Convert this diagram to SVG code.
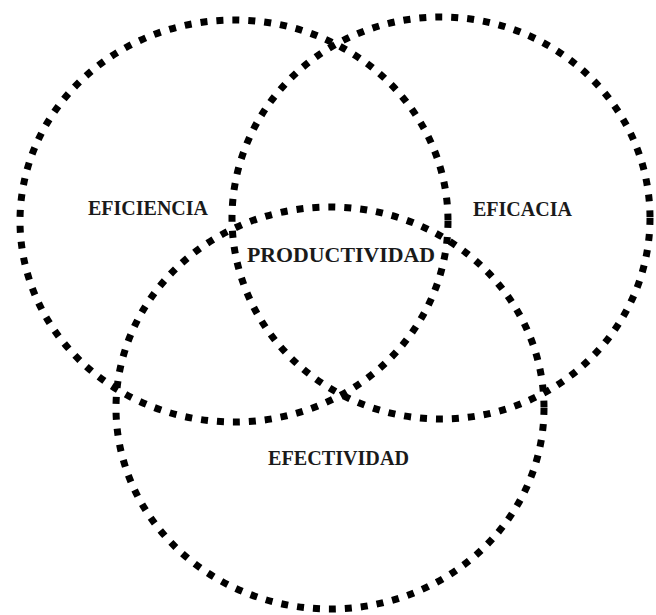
<svg xmlns="http://www.w3.org/2000/svg" width="656" height="615" viewBox="0 0 656 615">
  <style>
    .ring { fill: none; stroke: #000; stroke-width: 7; stroke-dasharray: 7 9; }
    .lbl { font-family: "Liberation Serif", "Times New Roman", serif; font-weight: bold; font-size: 20px; fill: #1a1a1a; }
  </style>
  <rect width="656" height="615" fill="#fff"/>
  <g id="eficiencia">
    <ellipse class="ring" cx="234" cy="221" rx="214" ry="201"/>
    <text class="lbl" x="88" y="215" textLength="120" lengthAdjust="spacingAndGlyphs">EFICIENCIA</text>
  </g>
  <g id="eficacia">
    <ellipse class="ring" cx="441" cy="218" rx="209" ry="201"/>
    <text class="lbl" x="473" y="216" textLength="99" lengthAdjust="spacingAndGlyphs">EFICACIA</text>
  </g>
  <g id="efectividad">
    <ellipse class="ring" cx="330" cy="408" rx="214" ry="201"/>
    <text class="lbl" x="268" y="465" textLength="141" lengthAdjust="spacingAndGlyphs">EFECTIVIDAD</text>
  </g>
  <g id="productividad">
    <text class="lbl" x="247" y="262" textLength="188" lengthAdjust="spacingAndGlyphs">PRODUCTIVIDAD</text>
  </g>
  <g id="connectors"></g>
</svg>
